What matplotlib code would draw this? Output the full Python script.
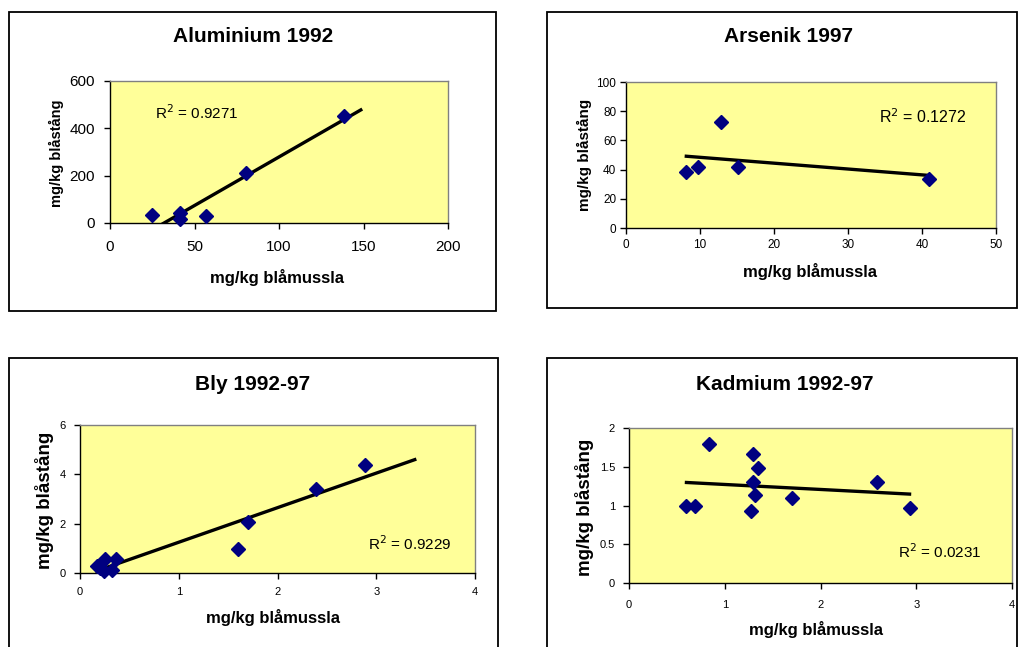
import numpy as np
import matplotlib
matplotlib.use("Agg")
import matplotlib.pyplot as plt
from matplotlib.patches import Rectangle

plt.rcParams['font.family'] = ['Liberation Sans', 'DejaVu Sans']

W, H = 1019, 647

# data (mg/kg blåmussla vs mg/kg blåstång)
al_x = [25, 41.5, 41.5, 56.7, 80.4, 138.4]
al_y = [34, 42, 17, 28, 211, 454]

as_x = [8.15, 9.7, 12.9, 15.1, 41.0]
as_y = [38.1, 41.5, 72.5, 41.5, 33.7]

pb_x = [0.17, 0.2, 0.24, 0.25, 0.32, 0.36, 1.6, 1.7, 2.39, 2.89]
pb_y = [0.28, 0.2, 0.1, 0.55, 0.12, 0.55, 0.98, 2.08, 3.4, 4.38]

cd_x = [0.6, 0.69, 0.84, 1.30, 1.35, 1.30, 1.32, 1.27, 1.70, 2.59, 2.93]
cd_y = [1.0, 1.0, 1.79, 1.67, 1.48, 1.30, 1.13, 0.93, 1.10, 1.30, 0.97]

titles = ["Aluminium 1992", "Arsenik 1997", "Bly 1992-97", "Kadmium 1992-97"]
r2_labels = ["0.9271", "0.1272", "0.9229", "0.0231"]
forecast = [10, 0, 0.5, 0]   # trendline forward extension
xlims = [(0, 200), (0, 50), (0, 4), (0, 4)]
ylims = [(0, 600), (0, 100), (0, 6), (0, 2)]
xticks = [[0, 50, 100, 150, 200], [0, 10, 20, 30, 40, 50], [0, 1, 2, 3, 4], [0, 1, 2, 3, 4]]
yticks = [[0, 200, 400, 600], [0, 20, 40, 60, 80, 100], [0, 2, 4, 6], [0, 0.5, 1, 1.5, 2]]
yticklabels = [None, None, None, ["0", "0.5", "1", "1.5", "2"]]

# layout in pixels
boxes = [(9, 12, 496, 311), (547, 12, 1017, 308), (9, 358, 498, 650), (547, 358, 1017, 650)]
plots = [(110, 81, 448, 223), (626, 82, 996, 228), (80, 425, 475, 573), (629, 428, 1012, 583)]
title_pos = [(253, 37), (789, 37), (253, 384), (785, 384)]
xlab_pos = [(277, 278), (810, 271), (273, 617), (816, 629)]
ylab_pos = [(56, 153), (584, 155), (45, 500), (585, 507)]
r2_pos = [(26.6, 465), (34.2, 76), (2.92, 1.18), (2.81, 0.40)]
tick_fs = [11, 8.5, 8, 8]
ylab_fs = [10.5, 11, 13.5, 13.5]
r2_fs = [11, 11.5, 11, 11]
pads = [(8, 7), (4, 3), (6, 6), (8, 6)]

xs = [al_x, as_x, pb_x, cd_x]
ys = [al_y, as_y, pb_y, cd_y]

fig = plt.figure(figsize=(W / 100, H / 100), dpi=100)

for i in range(4):
    bx0, by0, bx1, by1 = boxes[i]
    fig.patches.append(Rectangle((bx0 / W, 1 - by1 / H), (bx1 - bx0) / W, (by1 - by0) / H,
                                 transform=fig.transFigure, fill=False,
                                 edgecolor='black', linewidth=1.3))
    x0, y0, x1, y1 = plots[i]
    ax = fig.add_axes([x0 / W, 1 - y1 / H, (x1 - x0) / W, (y1 - y0) / H])
    ax.set_facecolor('#FFFF99')
    for s in ['top', 'right']:
        ax.spines[s].set_color('#808080')
        ax.spines[s].set_linewidth(1)
    for s in ['left', 'bottom']:
        ax.spines[s].set_color('black')
        ax.spines[s].set_linewidth(1)

    x = np.array(xs[i])
    y = np.array(ys[i])
    k, m = np.polyfit(x, y, 1)
    tx = np.array([x.min(), x.max() + forecast[i]])
    ax.plot(tx, k * tx + m, color='black', linewidth=2.4, zorder=2)
    ax.plot(x, y, linestyle='none', marker='D', markersize=7.5,
            markerfacecolor='#000080', markeredgecolor='#000080', zorder=3,
            clip_on=False)

    ax.set_xlim(*xlims[i])
    ax.set_ylim(*ylims[i])
    ax.set_xticks(xticks[i])
    ax.set_yticks(yticks[i])
    if yticklabels[i]:
        ax.set_yticklabels(yticklabels[i])
    ax.tick_params(axis='both', direction='out', length=4, width=1,
                   labelsize=tick_fs[i], color='black')
    ax.tick_params(axis='x', pad=pads[i][0])
    ax.tick_params(axis='y', pad=pads[i][1])

    ax.text(r2_pos[i][0], r2_pos[i][1], "R$^2$ = " + r2_labels[i],
            fontsize=r2_fs[i], va='center', ha='left')

    tx_, ty_ = title_pos[i]
    fig.text(tx_ / W, 1 - ty_ / H, titles[i], fontsize=15, fontweight='bold',
             ha='center', va='center')
    lx, ly = xlab_pos[i]
    fig.text(lx / W, 1 - ly / H, "mg/kg blåmussla", fontsize=12, fontweight='bold',
             ha='center', va='center')
    vx, vy = ylab_pos[i]
    fig.text(vx / W, 1 - vy / H, "mg/kg blåstång", fontsize=ylab_fs[i], fontweight='bold',
             ha='center', va='center', rotation=90)

fig.savefig("out.png", dpi=100)
